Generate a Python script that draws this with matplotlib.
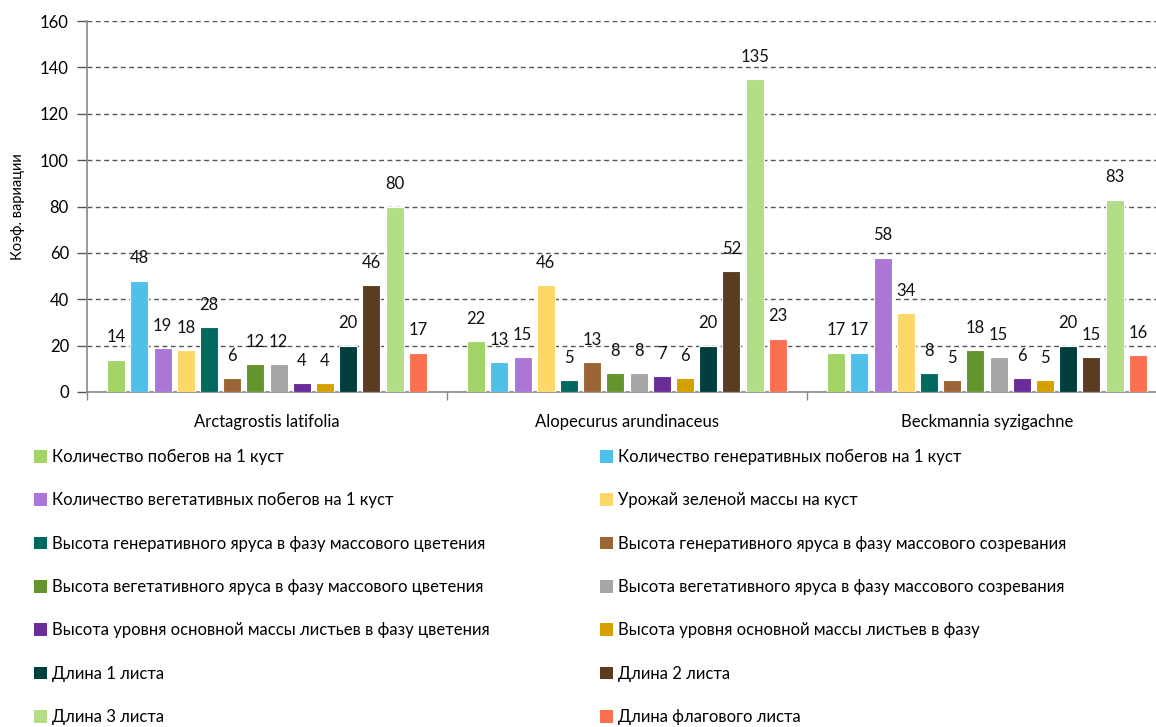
import numpy as np
import matplotlib.pyplot as plt
from matplotlib.patches import Patch

plt.rcParams['font.family'] = ['Lato', 'DejaVu Sans']

species = ["Arctagrostis latifolia", "Alopecurus arundinaceus", "Beckmannia syzigachne"]

traits = [
    "Количество побегов на 1 куст",
    "Количество генеративных побегов на 1 куст",
    "Количество вегетативных побегов на 1 куст",
    "Урожай зеленой массы на куст",
    "Высота генеративного яруса в фазу массового цветения",
    "Высота генеративного яруса в фазу массового созревания",
    "Высота вегетативного яруса в фазу массового цветения",
    "Высота вегетативного яруса в фазу массового созревания",
    "Высота уровня основной массы листьев в фазу цветения",
    "Высота уровня основной массы листьев в фазу",
    "Длина 1 листа",
    "Длина 2 листа",
    "Длина 3 листа",
    "Длина флагового листа",
]

colors = ["#A2D468", "#4FC1E9", "#AC75D8", "#FDD868", "#00695F", "#9B6535", "#63952C",
          "#A6A6A6", "#6A2C98", "#D6A000", "#003F3E", "#5B3C20", "#B4DD88", "#FC7052"]

arctagrostis = [14, 48, 19, 18, 28, 6, 12, 12, 4, 4, 20, 46, 80, 17]
alopecurus = [22, 13, 15, 46, 5, 13, 8, 8, 7, 6, 20, 52, 135, 23]
beckmannia = [17, 17, 58, 34, 8, 5, 18, 15, 6, 5, 20, 15, 83, 16]

values = np.array([arctagrostis, alopecurus, beckmannia])

W, H = 1156, 727
fig = plt.figure(figsize=(W / 100, H / 100), dpi=100)
ax = fig.add_axes([87 / W, 1 - 392 / H, 1080 / W, 371 / H])

x = np.arange(len(species))
pitch = 0.0645
width = 0.05
for i, (name, col) in enumerate(zip(traits, colors)):
    xs = x + (i - 6.5) * pitch
    ax.bar(xs, values[:, i], width=width, color=col, edgecolor="white", linewidth=0.8, zorder=3)
    for xv, yv in zip(xs, values[:, i]):
        ax.annotate(str(yv), (xv, yv), xytext=(0, 16), textcoords="offset points",
                    ha="center", va="center", fontsize=12, color="#111111")

ax.set_xlim(-0.5, 2.5)
ax.set_ylim(0, 160)
ax.set_yticks(np.arange(0, 161, 20))
ax.grid(axis="y", linestyle=(0, (3.5, 2.5)), color="#555555", linewidth=1, zorder=0)
ax.tick_params(axis="y", length=7, width=1, color="#555555", labelsize=12, pad=6)
ax.set_ylabel("Коэф. вариации", fontsize=10.5, labelpad=11)

# category labels centered, ticks at group boundaries
ax.set_xticks(x)
ax.set_xticklabels(species, fontsize=12)
ax.tick_params(axis="x", length=0, pad=16)
ax.set_xticks(np.arange(-0.5, 2.6, 1), minor=True)
ax.tick_params(axis="x", which="minor", length=6, width=1, color="#888888", direction="out")

for side in ("top", "right"):
    ax.spines[side].set_visible(False)
ax.spines["left"].set_color("#888888")
ax.spines["bottom"].set_color("#888888")
ax.spines["left"].set_linewidth(1.2)
ax.spines["bottom"].set_linewidth(1.2)

handles = [Patch(facecolor=c, edgecolor="none") for c in colors]
leg_kw = dict(frameon=False, fontsize=12, handlelength=0.8, handleheight=0.8,
              handletextpad=0.3, labelspacing=1.64, borderpad=0, borderaxespad=0,
              loc="upper left")
left_idx = list(range(0, 14, 2))
right_idx = list(range(1, 14, 2))
fig.legend([handles[i] for i in left_idx], [traits[i] for i in left_idx],
           bbox_to_anchor=(34 / W, 1 - 449 / H), **leg_kw)
fig.legend([handles[i] for i in right_idx], [traits[i] for i in right_idx],
           bbox_to_anchor=(600 / W, 1 - 449 / H), **leg_kw)

fig.savefig("out.png", dpi=100)
